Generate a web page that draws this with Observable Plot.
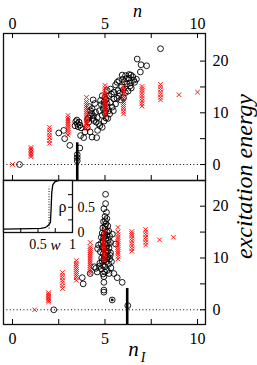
<!DOCTYPE html>
<html><head><meta charset="utf-8">
<script src="https://cdn.jsdelivr.net/npm/d3@7"></script>
<script src="https://cdn.jsdelivr.net/npm/@observablehq/plot@0.6"></script>
<style>
body{margin:0;background:#fff;}
#wrap{position:relative;width:257px;height:365px;overflow:hidden;background:#fff;}
#wrap svg{position:absolute;left:0;top:0;}
</style></head><body><div id="wrap"></div>
<script>
// ---------- data ----------
const xTickLabels = [0, 5, 10];
const xMinorTicks = [0, 2.5, 5, 7.5, 10];
const yTickLabels = [0, 10, 20];
const yMinorTicks = [0, 5, 10, 15, 20];
const zeroLine = [0];

// red crosses: energies per column (same spectrum in both panels)
const crossEnergies = [
  [0.0],
  [1.5, 1.8, 2.1, 2.4, 2.7, 3.0, 3.3],
  [4.1, 4.6, 5.2, 5.7, 6.2, 6.7, 7.2],
  [5.7, 6.2, 6.6, 7.0, 7.4, 7.8, 8.2, 8.6, 9.0, 9.5],
  [7.0, 7.4, 7.8, 8.2, 8.6, 9.0, 9.4, 9.8, 10.2, 10.6, 11.0, 11.4, 11.8, 12.2, 13.0],
  [9.5, 9.9, 10.3, 10.7, 11.1, 11.5, 11.9, 12.3, 12.7, 13.1, 13.5, 13.9, 14.3, 14.8, 15.3],
  [9.8, 10.3, 10.8, 11.2, 11.6, 12.0, 12.4, 12.8, 13.2, 13.6, 14.0, 14.5, 15.0, 15.9],
  [11.3, 11.8, 12.3, 12.8, 13.3, 13.8, 14.3, 14.7, 15.1],
  [12.5, 13.0, 13.5, 14.0, 14.5, 15.0, 15.5],
  [13.5],
  [14.0]
];
const crossColumnsN  = [0, 1, 2, 3, 4, 5, 6, 7, 8, 9, 10];
const crossColumnsNI = [1.2, 1.95, 2.7, 3.45, 4.2, 4.95, 5.7, 6.45, 7.2, 7.95, 8.7];

// black circles, top panel: [n, energy]
const topCircles = [
  [0.38,0.0],
  [2.5,6.1],[2.77,6.6],[2.82,5.0],[3.1,3.7],
  [3.5,0.7],[3.5,1.3],[3.5,1.9],[3.64,3.2],
  [3.42,8.3],[3.5,7.9],[3.6,8.2],[3.55,7.3],[3.65,7.6],[3.38,7.5],[3.7,7.1],[3.48,8.6],
  [3.85,5.2],[3.68,5.6],[3.92,6.3],[4.12,8.2],[4.04,7.2],[4.2,6.3],[4.3,5.3],[4.55,5.2],
  [4.36,12.5],[4.2,9.5],[4.3,10.8],[4.45,11.8],[4.49,10.1],[4.58,9.1],[4.4,8.5],[4.66,7.9],
  [4.85,7.2],[4.28,9.9],[4.22,10.4],[4.1,9.0],[4.35,8.9],[4.52,8.2],[4.6,6.6],[4.72,7.5],
  [4.15,11.2],[4.38,9.4],[4.05,8.7],
  [4.76,12.4],[4.85,13.3],[4.94,11.4],[5.03,10.4],[4.85,9.5],[5.0,13.0],[5.05,12.6],[5.12,14.3],
  [5.2,13.3],[5.3,14.6],[5.2,10.4],[5.3,12.0],[5.39,11.1],[5.48,12.7],[5.57,11.7],[5.48,14.0],
  [5.57,15.4],[4.95,12.1],[5.1,11.8],[5.05,9.0],[5.15,8.9],[5.25,9.8],[4.9,10.8],[5.12,11.0],
  [5.0,9.9],[4.8,11.6],[4.7,10.4],[4.95,8.4],[5.35,13.6],[5.45,10.4],
  [5.75,16.2],[5.93,17.3],[6.11,17.2],[6.29,16.7],[6.38,15.8],[6.2,15.6],[6.42,14.8],[5.7,14.3],
  [5.8,13.8],[5.9,15.0],[6.0,14.5],[5.65,12.8],[5.85,12.5],[6.1,13.9],[6.05,16.0],[5.95,16.5],
  [6.25,14.2],[6.4,17.3],[6.5,17.0],[6.55,16.3],[6.6,15.9],[5.66,15.9],[6.15,16.6],[6.3,17.4],
  [5.75,13.2],[6.35,15.2],[6.0,12.9],
  [6.7,16.5],[6.91,17.9],[6.74,20.4],[6.95,19.3],[7.25,19.1],
  [8.0,22.4]
];

// black circles, bottom panel: [n_I, energy]
const bottomCircles = [
  [2.23,0.0],[6.23,0.8],[5.39,1.9],[4.94,3.4],[4.94,3.8],
  [3.77,6.2],[3.82,5.0],[4.2,7.0],[4.43,8.3],[4.58,7.3],[4.5,8.0],[4.94,6.4],[4.94,5.3],
  [5.48,7.0],[5.66,6.2],[5.93,5.3],[5.57,12.7],
  [5.03,22.3],[5.03,20.5],[4.94,19.5],[5.08,18.8],[5.0,18.0],[5.1,17.6],[4.92,17.0],[5.05,16.6],
  [5.15,16.2],[4.88,15.8],[5.0,15.5],[5.2,15.2],[4.85,14.8],[4.95,14.6],[5.1,14.4],[5.25,14.2],
  [4.8,14.0],[5.05,13.8],[5.18,13.5],[4.9,13.3],[5.3,13.0],[4.78,12.8],[5.0,12.7],[5.12,12.4],
  [4.85,12.1],[5.22,11.9],[4.95,11.7],[5.08,11.4],[4.75,11.2],[5.3,11.0],[4.9,10.8],[5.02,10.6],
  [5.15,10.3],[4.82,10.0],[5.25,9.8],[4.95,9.6],[5.08,9.3],[4.72,9.0],[5.2,8.8],[4.88,8.6],
  [5.0,8.3],[5.32,8.1],[4.8,7.9],[5.12,7.6],[4.98,7.3],[5.22,7.0],[4.9,6.9],[5.05,12.0],
  [4.92,13.9],[5.12,15.0],[5.0,16.1],[4.85,9.4],[5.28,10.5],[5.18,12.8],[4.98,14.2],[5.1,9.9],
  [4.7,8.4],[5.35,9.3],[4.65,12.5],[4.6,11.8],[5.4,14.6],[5.02,17.2],[4.96,10.2],[5.15,11.3]
];
const bottomMarked = [[5.39, 1.9]];

// thick vertical markers: [position, top energy]
const topMarker = [[3.5, 4.2]];
const bottomMarker = [[6.2, 4.1]];

// inset: rho(w)
const insetW   = [0.0, 0.2, 0.4, 0.54, 0.6, 0.63, 0.66, 0.68, 0.69, 0.70, 0.715, 0.75, 0.83, 1.0];
const insetRho = [0.068, 0.07, 0.075, 0.08, 0.095, 0.12, 0.16, 0.2, 0.47, 0.8, 0.95, 1.01, 1.04, 1.05];
const insetDotted = [[0.66, 0.07, 0.9]];
const insetXTickLabels = [0.5, 1];
const insetXMinor = [0.25, 0.5, 0.75];
const insetYTickLabels = [0, 0.5];
const insetYMinor = [0.25, 0.5, 0.75];

// ---------- layout ----------
const W = 257, H = 365;
const FONT = "'Liberation Serif', 'Times New Roman', serif";
const L = 3, R = 205, T1 = 33, MID = 180, B2 = 324;
const xDomain = [-0.486, 10.432];
const yTopDomain = [-3.09, 25.34];
const yBotDomain = [-2.84, 24.96];
const TL = 5;
const fmt = d => String(d);

function crosses(cols) {
  const out = [];
  cols.forEach((x, i) => crossEnergies[i].forEach(e => out.push([x, e])));
  return out;
}

function label(txt, anchor, dx, dy, size, italic, rotate) {
  return Plot.text([txt], {frameAnchor: anchor, dx, dy, fontSize: size,
    fontStyle: italic ? "italic" : "normal", textAnchor: "middle", lineAnchor: "middle",
    rotate: rotate || 0, fill: "#000"});
}

function panel(top, bottom, yDomain, circles, cols, marker, which) {
  const ph = bottom - top, pw = R - L;
  const marks = [
    Plot.ruleY(zeroLine, {y: d => d, stroke: "#000", strokeWidth: 1, strokeDasharray: "1,2.4"}),
    Plot.dot(circles, {x: d => d[0], y: d => d[1], symbol: "circle", r: 2.9, stroke: "#000", fill: "none", strokeWidth: 0.9}),
    Plot.dot(crosses(cols), {x: d => d[0], y: d => d[1], symbol: "times", r: 2.2, stroke: "#ff0000", strokeWidth: 0.9}),
    Plot.ruleX(marker, {x: d => d[0], y1: d => d[1], y2: () => yDomain[0], stroke: "#000", strokeWidth: 2.6}),
    Plot.tickX(xMinorTicks, {x: d => d, insetTop: ph - TL, stroke: "#000"}),
    Plot.tickY(yMinorTicks, {y: d => d, insetLeft: pw - TL, stroke: "#000"}),
    Plot.axisY({anchor: "right", ticks: yTickLabels, tickSize: 0, tickPadding: 7, label: null, fontSize: 16, tickFormat: fmt}),
    Plot.frame({stroke: "#111", strokeWidth: 1.3})
  ];
  if (which === "top") {
    marks.push(Plot.tickX(xMinorTicks, {x: d => d, insetBottom: ph - TL, stroke: "#000"}));
    marks.push(Plot.axisX({anchor: "top", ticks: xTickLabels, tickSize: 0, tickPadding: 5, label: null, fontSize: 16, tickFormat: fmt}));
    marks.push(label("n", "top", 33, -22.7, 18, true));
    marks.push(label("excitation energy", "top-right", 39, 143, 24, true, -90));
  } else {
    marks.push(Plot.dot(bottomMarked, {x: d => d[0], y: d => d[1], r: 1.4, fill: "#000"}));
    marks.push(Plot.axisX({anchor: "bottom", ticks: xTickLabels, tickSize: 0, tickPadding: 8, label: null, fontSize: 16, tickFormat: fmt}));
    marks.push(label("n", "bottom", 29, 25, 21, true));
    marks.push(label("I", "bottom", 38.5, 33, 14, true));
  }
  return Plot.plot({
    width: W, height: H,
    marginLeft: L, marginRight: W - R, marginTop: top, marginBottom: H - bottom,
    x: {domain: xDomain, axis: null},
    y: {domain: yDomain, axis: null},
    style: {background: "transparent", fontFamily: FONT, fontSize: "16px", color: "#000", overflow: "visible"},
    marks
  });
}

function inset() {
  const IL = 3, IR = 72, IT = 180, IB = 232;
  const ph = IB - IT, pw = IR - IL;
  const line = insetW.map((w, i) => [w, insetRho[i]]);
  return Plot.plot({
    width: W, height: H,
    marginLeft: IL, marginRight: W - IR, marginTop: IT, marginBottom: H - IB,
    x: {domain: [0, 1], axis: null},
    y: {domain: [0, 1.03], axis: null},
    style: {background: "transparent", fontFamily: FONT, fontSize: "14px", color: "#000", overflow: "visible"},
    marks: [
      Plot.frame({fill: "#fff", stroke: null}),
      Plot.ruleX(insetDotted, {x: d => d[0], y1: d => d[1], y2: d => d[2], stroke: "#000", strokeDasharray: "1,1.6"}),
      Plot.line(line, {x: d => d[0], y: d => d[1], stroke: "#000", strokeWidth: 1.3, clip: true}),
      Plot.tickX(insetXMinor, {x: d => d, insetTop: ph - 4, stroke: "#000"}),
      Plot.tickY(insetYMinor, {y: d => d, insetLeft: pw - 4, stroke: "#000"}),
      Plot.frame({stroke: "#111", strokeWidth: 1.3}),
      Plot.axisX({anchor: "bottom", ticks: insetXTickLabels, tickSize: 0, tickPadding: 7, label: null, fontSize: 14, tickFormat: fmt}),
      Plot.axisY({anchor: "right", ticks: insetYTickLabels, tickSize: 0, tickPadding: 5, label: null, fontSize: 14, tickFormat: fmt}),
      label("ρ", "right", -10, 0, 16, false),
      label("w", "bottom-right", -17, 13, 15, true)
    ]
  });
}

const wrap = document.getElementById("wrap");
wrap.appendChild(panel(T1, MID, yTopDomain, topCircles, crossColumnsN, topMarker, "top"));
wrap.appendChild(panel(MID, B2, yBotDomain, bottomCircles, crossColumnsNI, bottomMarker, "bottom"));
wrap.appendChild(inset());
</script></body></html>
